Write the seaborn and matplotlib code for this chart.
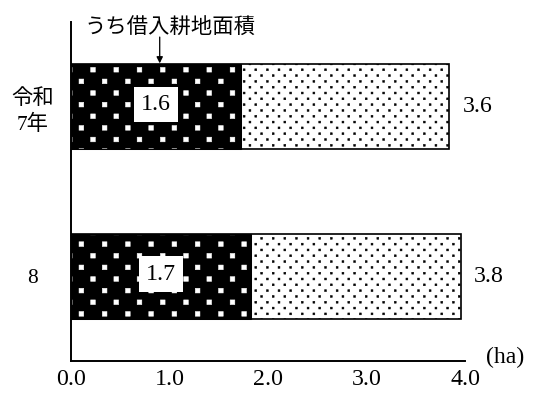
import numpy as np
import pandas as pd
import matplotlib
matplotlib.use("Agg")
import matplotlib.pyplot as plt
import matplotlib.hatch as mhatch
from matplotlib.path import Path
import seaborn as sns

# ---------------- data ----------------
years = ["令和\n7年", "8"]
total_ha = [3.6, 3.8]            # printed values (経営耕地面積)
borrowed_ha = [1.6, 1.7]         # printed values (うち借入耕地面積)
# bar lengths as drawn against the axis in the reference
total_len = [3.84, 3.96]
borrowed_len = [1.72, 1.83]
x_ticks = [0.0, 1.0, 2.0, 3.0, 4.0]
x_tick_labels = ["0.0", "1.0", "2.0", "3.0", "4.0"]
annot_text = "うち借入耕地面積"
unit_text = "(ha)"


# ---------------- custom dot hatches (staggered square dots) ----------------
class _StaggeredSquares(mhatch.HatchPatternBase):
    char = "."
    ncols = 8
    size = 0.016

    def __init__(self, hatch, density):
        if hatch.count(self.char) > 0:
            nrows = 2 * self.ncols
            pts = []
            for r in range(nrows + 1):
                y = r / nrows
                if r % 2 == 0:
                    xs = np.arange(self.ncols + 1) / self.ncols
                else:
                    xs = (np.arange(self.ncols) + 0.5) / self.ncols
                pts += [(x, y) for x in xs]
            self.centers = np.array(pts)
            self.num_vertices = len(pts) * 5
        else:
            self.num_vertices = 0

    def set_vertices_and_codes(self, vertices, codes):
        h = self.size / 2
        sq = np.array([[-h, -h], [h, -h], [h, h], [-h, h], [-h, -h]])
        vertices[:] = (self.centers[:, None, :] + sq[None]).reshape(-1, 2)
        c = np.array([Path.MOVETO, Path.LINETO, Path.LINETO, Path.LINETO,
                      Path.CLOSEPOLY])
        codes[:] = np.tile(c, len(self.centers))


class FineDots(_StaggeredSquares):
    char = "."
    ncols = 8
    size = 0.02


class CoarseDots(_StaggeredSquares):
    char = "o"
    ncols = 4
    size = 0.05


mhatch._hatch_types = [FineDots, CoarseDots]

# ---------------- style ----------------
sns.set_theme(style="white")
plt.rcParams["font.family"] = ["Liberation Serif", "Noto Sans CJK JP"]
plt.rcParams["hatch.linewidth"] = 0.4

DPI = 93
fig = plt.figure(figsize=(546.2 / DPI, 396.2 / DPI), dpi=DPI)
W, H = 546, 396
ax = fig.add_axes([71 / W, (H - 361) / H, (465 - 71) / W, (361 - 22) / H])

df = pd.DataFrame({"year": years, "total": total_len, "borrowed": borrowed_len})

# total bars (light dotted)
sns.barplot(data=df, x="total", y="year", orient="h", color="white",
            saturation=1, width=0.5, edgecolor="black", linewidth=1.3,
            hatch=".", errorbar=None, ax=ax)
# borrowed bars (black with white dots)
sns.barplot(data=df, x="borrowed", y="year", orient="h", color="black",
            saturation=1, width=0.5, edgecolor="white", linewidth=0,
            hatch="o", errorbar=None, ax=ax)
# outline of borrowed bars
sns.barplot(data=df, x="borrowed", y="year", orient="h", color="black",
            fill=False, width=0.5, linewidth=0.8, errorbar=None, ax=ax)

ax.set_xlim(0, 4)
ax.set_ylim(1.5, -0.5)
ax.set_xlabel("")
ax.set_ylabel("")

# axes styling
for s in ["top", "right"]:
    ax.spines[s].set_visible(False)
for s in ["left", "bottom"]:
    ax.spines[s].set_linewidth(1.5)
    ax.spines[s].set_color("black")

NUM_FS = 18.5
ax.set_xticks(x_ticks)
ax.set_xticklabels(x_tick_labels, fontsize=NUM_FS)
ax.tick_params(axis="x", direction="in", length=5.4, width=1.2,
               color="black", pad=6, labelcolor="black")
ax.tick_params(axis="y", length=0, pad=30, labelsize=16.5, labelcolor="black")
for lab in ax.get_yticklabels():
    lab.set_ha("center")
    lab.set_multialignment("center")
    lab.set_linespacing(1.4)

# value labels
for i, (L, v) in enumerate(zip(borrowed_len, borrowed_ha)):
    ax.text(L / 2, i - 0.012, f"{v:.1f}", ha="center", va="center",
            fontsize=NUM_FS, color="black", zorder=6,
            bbox=dict(boxstyle="square,pad=0.3", fc="white", ec="none"))
for i, (L, v) in enumerate(zip(total_len, total_ha)):
    ax.annotate(f"{v:.1f}", xy=(L, i), xytext=(10, 0),
                textcoords="offset points", ha="left", va="center",
                fontsize=NUM_FS, color="black")

# annotation with arrow
ax.annotate("", xy=(0.90, -0.255), xytext=(0.90, -0.41),
            arrowprops=dict(arrowstyle="-|>", color="black", lw=1.0,
                            mutation_scale=10, shrinkA=0, shrinkB=0),
            annotation_clip=False)
ax.text(0.132, -0.46, annot_text, ha="left", va="center", fontsize=16.5,
        color="black", clip_on=False)

# unit label
ax.text(1.053, 0.012, unit_text, transform=ax.transAxes, ha="left",
        va="center", fontsize=NUM_FS, color="black")

fig.savefig("out.png", dpi=DPI, facecolor="white")
